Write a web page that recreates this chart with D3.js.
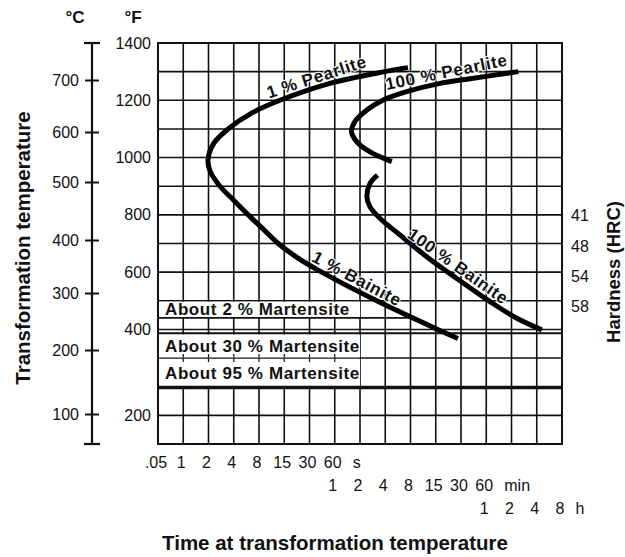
<!DOCTYPE html>
<html>
<head>
<meta charset="utf-8">
<script src="https://cdn.jsdelivr.net/npm/d3@7"></script>
<style>
  body { margin: 0; background: #fff; }
  svg text { font-family: Arial, "Liberation Sans", Helvetica, sans-serif; fill: #111; }
</style>
</head>
<body>
<script>
// time axis, one grid column per step (seconds)
const timeTicks = [0.5, 1, 2, 4, 8, 15, 30, 60, 120, 240, 480, 900, 1800, 3600, 7200, 14400, 28800];
const secLabels = [".05", "1", "2", "4", "8", "15", "30", "60"];   // 0.5 s .. 60 s
const minLabels = ["1", "2", "4", "8", "15", "30", "60"];          // 1 min .. 60 min
const hourLabels = ["1", "2", "4", "8"];                           // 1 h .. 8 h

const tempF = [1400, 1200, 1000, 800, 600, 400, 200];
const tempC = [700, 600, 500, 400, 300, 200, 100];

const hardness = [41, 48, 54, 58];
const hardnessTempF = [798, 692, 587, 482];

// curves: [time s, temperature °F]
const onePercent = [
  [448, 1314], [238, 1300], [52.6, 1259], [13.5, 1200], [6.6, 1156], [3.44, 1100],
  [2.33, 1051], [1.97, 991], [2.11, 950], [2.74, 900], [3.97, 852], [5.96, 800],
  [8.83, 751], [12.9, 700], [21.9, 649], [41.9, 600], [190, 500], [949, 400], [1656, 379]
];
const pearlite100 = [
  [8680, 1300], [2530, 1277], [1013, 1259], [432, 1230], [227, 1201], [145, 1166],
  [104, 1125], [95, 1090], [110, 1055], [158, 1020], [287, 986]
];
const bainite100 = [
  [194, 939], [158, 910], [145, 863], [158, 828], [207, 788], [359, 730],
  [717, 654], [1600, 578], [3994, 497], [8330, 439], [16540, 399]
];

// labels sit on the curves at these points
const curveLabels = ["1 % Pearlite", "100 % Pearlite", "1 % Bainite", "100 % Bainite"];
const curveLabelAt = [[40, 1246], [1280, 1262], [96, 544], [1402, 590]];
const curveLabelAngle = [-18, -11.5, 28, 35];

const martensite = ["About 2 % Martensite", "About 30 % Martensite", "About 95 % Martensite"];
const martensiteTempF = [440, 391, 265];
const martensiteEnd = [560, 28800, 28800];
const boxTopF = [500, 391, 333.33];
const boxBottomF = [440, 333.33, 265];
const boxEnd = 120;   // boxes reach the 2 min line

const W = 625, H = 557;
const x0 = 158, x1 = 562, y0 = 43, y1 = 444;
const colW = (x1 - x0) / (timeTicks.length - 1);
const rowH = (y1 - y0) / 14;

const svg = d3.select("body").append("svg")
  .attr("width", W)
  .attr("height", H);

const x = d3.scaleLog()
  .domain(timeTicks)
  .range(timeTicks.map((d, i) => x0 + i * colW));

// the °F scale changes step below 400 °F
const yF = d3.scaleLinear()
  .domain([1400, 400, 133.33])
  .range([y0, y0 + 10 * rowH, y1]);

const yC = d3.scaleLinear()
  .domain(tempC)
  .range([80, 132, 182, 240, 293, 350, 414]);

const gridF = d3.range(1400, 399, -100).concat([333.33, 266.67, 200, 133.33]);

// grid
const grid = svg.append("g").attr("stroke", "#111").attr("stroke-width", 1.6);
grid.selectAll(null).data(timeTicks).join("line")
  .attr("x1", d => x(d)).attr("x2", d => x(d))
  .attr("y1", y0).attr("y2", y1);
grid.selectAll(null).data(gridF).join("line")
  .attr("x1", x0).attr("x2", x1)
  .attr("y1", d => yF(d)).attr("y2", d => yF(d));

// martensite label boxes hide the grid
svg.append("g").selectAll("rect").data(martensite).join("rect")
  .attr("x", x0 + 1)
  .attr("width", x(boxEnd) - x0 - 1)
  .attr("y", (d, i) => yF(boxTopF[i]) + 1)
  .attr("height", (d, i) => yF(boxBottomF[i]) - yF(boxTopF[i]) - 1.5)
  .attr("fill", "#fff");

// little ticks left between the 30 % and 95 % boxes
svg.append("g").attr("stroke", "#111").attr("stroke-width", 1.2)
  .selectAll(null).data(timeTicks.slice(1, 8)).join("line")
  .attr("x1", d => x(d)).attr("x2", d => x(d))
  .attr("y1", yF(333.33) - 4).attr("y2", yF(333.33) + 4);
svg.append("line")
  .attr("x1", x0).attr("x2", x(boxEnd))
  .attr("y1", yF(333.33)).attr("y2", yF(333.33))
  .attr("stroke", "#555").attr("stroke-width", 1);

// martensite lines
svg.append("g").selectAll("line").data(martensiteTempF).join("line")
  .attr("x1", x0)
  .attr("x2", (d, i) => x(martensiteEnd[i]))
  .attr("y1", d => yF(d)).attr("y2", d => yF(d))
  .attr("stroke", "#111")
  .attr("stroke-width", (d, i) => [1.8, 2, 3.5][i]);

svg.append("g").selectAll("text").data(martensite).join("text")
  .attr("x", x0 + 7)
  .attr("y", (d, i) => (yF(boxTopF[i]) + yF(boxBottomF[i])) / 2)
  .attr("dy", "0.36em")
  .attr("font-size", 17)
  .attr("font-weight", "bold")
  .attr("letter-spacing", 0.6)
  .text(d => d);

// frame
svg.append("rect")
  .attr("x", x0).attr("y", y0)
  .attr("width", x1 - x0).attr("height", y1 - y0)
  .attr("fill", "none").attr("stroke", "#111").attr("stroke-width", 2);

// curves
const line = d3.line()
  .x(d => x(d[0]))
  .y(d => yF(d[1]))
  .curve(d3.curveCatmullRom.alpha(0.5));

svg.append("g").selectAll("path").data([onePercent, pearlite100, bainite100]).join("path")
  .attr("d", line)
  .attr("fill", "none")
  .attr("stroke", "#000")
  .attr("stroke-width", 5);

svg.append("g").selectAll("text").data(curveLabels).join("text")
  .attr("transform", (d, i) =>
    `translate(${x(curveLabelAt[i][0])},${yF(curveLabelAt[i][1])}) rotate(${curveLabelAngle[i]})`)
  .attr("text-anchor", "middle")
  .attr("dy", -5)
  .attr("font-size", 17)
  .attr("font-weight", "bold")
  .attr("letter-spacing", 0.7)
  .attr("stroke", "#fff").attr("stroke-width", 2).attr("paint-order", "stroke")
  .text(d => d);

// °F axis
const axF = svg.append("g")
  .attr("transform", `translate(${x0},0)`)
  .call(d3.axisLeft(yF).tickValues(tempF).tickFormat(d3.format("d")).tickSize(0).tickPadding(7));
axF.select(".domain").remove();
axF.selectAll("text").attr("font-size", 16).attr("fill", "#111");

// °C axis
const xC = 92;
const axC = svg.append("g")
  .attr("transform", `translate(${xC},0)`)
  .call(d3.axisLeft(yC).tickValues(tempC).tickSize(7).tickPadding(6));
axC.select(".domain").remove();
axC.selectAll(".tick line").attr("x1", -7).attr("x2", 7).attr("stroke", "#111").attr("stroke-width", 2);
axC.selectAll("text").attr("font-size", 16).attr("fill", "#111");
axC.append("line").attr("x1", 0).attr("x2", 0).attr("y1", y0).attr("y2", y1)
  .attr("stroke", "#111").attr("stroke-width", 2.2);
axC.selectAll(".cap").data([y0, y1]).join("line")
  .attr("x1", -8).attr("x2", 8)
  .attr("y1", d => d).attr("y2", d => d)
  .attr("stroke", "#111").attr("stroke-width", 2.2);

svg.append("text").attr("x", 75).attr("y", 23)
  .attr("text-anchor", "middle").attr("font-size", 17).attr("font-weight", "bold").text("°C");
svg.append("text").attr("x", 133).attr("y", 23)
  .attr("text-anchor", "middle").attr("font-size", 17).attr("font-weight", "bold").text("°F");

// time labels, three rows
const timeRows = [
  { labels: secLabels, start: 0, unit: "s", y: 468 },
  { labels: minLabels, start: 7, unit: "min", y: 491 },
  { labels: hourLabels, start: 13, unit: "h", y: 514 }
];
timeRows.forEach(row => {
  const vals = timeTicks.slice(row.start, row.start + row.labels.length);
  const g = svg.append("g");
  g.selectAll("text").data(vals).join("text")
    .attr("x", d => x(d) - 2)
    .attr("y", row.y)
    .attr("text-anchor", "middle")
    .attr("font-size", 16)
    .text((d, i) => row.labels[i]);
  const last = vals[vals.length - 1];
  const lastLabel = row.labels[row.labels.length - 1];
  g.append("text")
    .attr("x", x(last) - 2 + lastLabel.length * 4.5 + 11)
    .attr("y", row.y)
    .attr("font-size", 16)
    .text(row.unit);
});

// hardness
svg.append("g").selectAll("text").data(hardness).join("text")
  .attr("x", 571)
  .attr("y", (d, i) => yF(hardnessTempF[i]))
  .attr("dy", "0.36em")
  .attr("font-size", 16)
  .text(d => d);

// titles
svg.append("text")
  .attr("transform", "translate(30,248) rotate(-90)")
  .attr("text-anchor", "middle")
  .attr("font-size", 20.5).attr("font-weight", "bold")
  .text("Transformation temperature");
svg.append("text")
  .attr("transform", "translate(620,272) rotate(-90)")
  .attr("text-anchor", "middle")
  .attr("font-size", 18.5).attr("font-weight", "bold")
  .text("Hardness (HRC)");
svg.append("text")
  .attr("x", 335).attr("y", 550)
  .attr("text-anchor", "middle")
  .attr("font-size", 20.5).attr("font-weight", "bold")
  .text("Time at transformation temperature");
</script>
</body>
</html>
